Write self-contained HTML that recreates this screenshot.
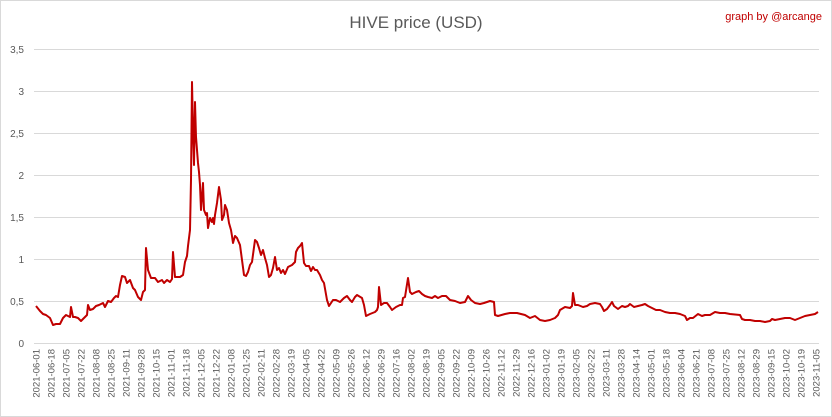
<!DOCTYPE html>
<html><head><meta charset="utf-8"><style>
html,body{margin:0;padding:0;background:#fff;}
svg{display:block;}
</style></head><body>
<svg width="832" height="417" viewBox="0 0 832 417" xmlns="http://www.w3.org/2000/svg" font-family="Liberation Sans, sans-serif">
<rect x="0.5" y="0.5" width="831" height="416" fill="#fff" stroke="#d9d9d9"/>
<text x="416" y="28" font-size="17" fill="#595959" text-anchor="middle">HIVE price (USD)</text>
<text x="822" y="20" font-size="11" fill="#c00000" text-anchor="end">graph by @arcange</text>
<g stroke="#d9d9d9" stroke-width="1">
<line x1="34" x2="819" y1="49.5" y2="49.5"/><line x1="34" x2="819" y1="91.5" y2="91.5"/>
<line x1="34" x2="819" y1="133.5" y2="133.5"/><line x1="34" x2="819" y1="175.5" y2="175.5"/>
<line x1="34" x2="819" y1="217.5" y2="217.5"/><line x1="34" x2="819" y1="259.5" y2="259.5"/>
<line x1="34" x2="819" y1="301.5" y2="301.5"/><line x1="34" x2="819" y1="343.5" y2="343.5"/>
</g>
<g font-size="10" fill="#595959" text-anchor="end">
<text x="24" y="53">3,5</text><text x="24" y="95">3</text><text x="24" y="137">2,5</text>
<text x="24" y="179">2</text><text x="24" y="221">1,5</text><text x="24" y="263">1</text>
<text x="24" y="305">0,5</text><text x="24" y="347">0</text>
</g>
<g font-size="9.5" fill="#595959" text-anchor="end">
<text transform="translate(39.5,349) rotate(-90)">2021-06-01</text>
<text transform="translate(54.5,349) rotate(-90)">2021-06-18</text>
<text transform="translate(69.5,349) rotate(-90)">2021-07-05</text>
<text transform="translate(84.5,349) rotate(-90)">2021-07-22</text>
<text transform="translate(99.5,349) rotate(-90)">2021-08-08</text>
<text transform="translate(114.5,349) rotate(-90)">2021-08-25</text>
<text transform="translate(129.5,349) rotate(-90)">2021-09-11</text>
<text transform="translate(144.5,349) rotate(-90)">2021-09-28</text>
<text transform="translate(159.5,349) rotate(-90)">2021-10-15</text>
<text transform="translate(174.5,349) rotate(-90)">2021-11-01</text>
<text transform="translate(189.5,349) rotate(-90)">2021-11-18</text>
<text transform="translate(204.5,349) rotate(-90)">2021-12-05</text>
<text transform="translate(219.5,349) rotate(-90)">2021-12-22</text>
<text transform="translate(234.5,349) rotate(-90)">2022-01-08</text>
<text transform="translate(249.5,349) rotate(-90)">2022-01-25</text>
<text transform="translate(264.5,349) rotate(-90)">2022-02-11</text>
<text transform="translate(279.5,349) rotate(-90)">2022-02-28</text>
<text transform="translate(294.5,349) rotate(-90)">2022-03-19</text>
<text transform="translate(309.5,349) rotate(-90)">2022-04-05</text>
<text transform="translate(324.5,349) rotate(-90)">2022-04-22</text>
<text transform="translate(339.5,349) rotate(-90)">2022-05-09</text>
<text transform="translate(354.5,349) rotate(-90)">2022-05-26</text>
<text transform="translate(369.5,349) rotate(-90)">2022-06-12</text>
<text transform="translate(384.5,349) rotate(-90)">2022-06-29</text>
<text transform="translate(399.5,349) rotate(-90)">2022-07-16</text>
<text transform="translate(414.5,349) rotate(-90)">2022-08-02</text>
<text transform="translate(429.5,349) rotate(-90)">2022-08-19</text>
<text transform="translate(444.5,349) rotate(-90)">2022-09-05</text>
<text transform="translate(459.5,349) rotate(-90)">2022-09-22</text>
<text transform="translate(474.5,349) rotate(-90)">2022-10-09</text>
<text transform="translate(489.5,349) rotate(-90)">2022-10-26</text>
<text transform="translate(504.5,349) rotate(-90)">2022-11-12</text>
<text transform="translate(519.5,349) rotate(-90)">2022-11-29</text>
<text transform="translate(534.5,349) rotate(-90)">2022-12-16</text>
<text transform="translate(549.5,349) rotate(-90)">2023-01-02</text>
<text transform="translate(564.5,349) rotate(-90)">2023-01-19</text>
<text transform="translate(579.5,349) rotate(-90)">2023-02-05</text>
<text transform="translate(594.5,349) rotate(-90)">2023-02-22</text>
<text transform="translate(609.5,349) rotate(-90)">2023-03-11</text>
<text transform="translate(624.5,349) rotate(-90)">2023-03-28</text>
<text transform="translate(639.5,349) rotate(-90)">2023-04-14</text>
<text transform="translate(654.5,349) rotate(-90)">2023-05-01</text>
<text transform="translate(669.5,349) rotate(-90)">2023-05-18</text>
<text transform="translate(684.5,349) rotate(-90)">2023-06-04</text>
<text transform="translate(699.5,349) rotate(-90)">2023-06-21</text>
<text transform="translate(714.5,349) rotate(-90)">2023-07-08</text>
<text transform="translate(729.5,349) rotate(-90)">2023-07-25</text>
<text transform="translate(744.5,349) rotate(-90)">2023-08-12</text>
<text transform="translate(759.5,349) rotate(-90)">2023-08-29</text>
<text transform="translate(774.5,349) rotate(-90)">2023-09-15</text>
<text transform="translate(789.5,349) rotate(-90)">2023-10-02</text>
<text transform="translate(804.5,349) rotate(-90)">2023-10-19</text>
<text transform="translate(819.5,349) rotate(-90)">2023-11-05</text>
</g>
<polyline fill="none" stroke="#c00000" stroke-width="2" stroke-linejoin="round" points="
36,306 40,311 43,314 46,315 50,318 53,325 56,324 60,324 63,318 66,315 70,317 71,307 73,317 75,317 78,318 81,321 84,318 87,315 88,305 90,310 93,309 96,306 99,305 103,303 105,307 108,301 111,302 114,298 116,296 118,297 120,285 122,276 125,277 127,283 130,280 133,288 135,290 138,297 141,300 143,292 145,290 146,248 148,270 151,278 155,278 158,282 162,280 164,283 167,280 170,282 172,279 173,252 175,277 180,277 183,275 185,262 187,256 188,246 190,230 191,180 192,82 193,130 194,165 195,102 196,137 198,163 199,172 200,185 201,210 203,183 204,210 206,215 207,213 208,228 210,218 212,222 213,218 214,224 215,215 217,203 219,187 221,200 222,220 224,215 225,205 227,210 229,223 231,230 232,236 233,243 235,236 237,238 240,245 242,260 244,275 246,276 248,272 250,265 252,262 255,240 257,242 259,248 261,255 263,250 265,258 267,265 269,277 271,275 273,268 275,257 277,270 279,268 281,273 283,270 285,274 288,267 292,265 295,262 296,252 298,248 300,246 302,243 304,263 306,266 309,266 311,271 313,267 315,270 317,270 320,275 322,280 324,283 327,300 329,306 331,303 333,300 336,300 340,302 344,298 347,296 350,300 352,302 355,297 357,295 362,298 364,305 366,316 370,314 375,312 377,310 378,307 379,287 381,305 384,303 387,303 390,307 392,310 396,307 400,305 402,305 403,298 405,297 408,278 410,292 412,294 416,292 419,291 422,294 425,296 428,297 432,298 435,296 438,298 442,296 446,296 450,300 455,301 460,303 465,302 468,296 471,300 475,303 480,304 484,303 490,301 494,302 495,315 498,316 505,314 510,313 517,313 525,315 530,318 535,316 540,320 545,321 550,320 555,318 558,315 560,310 565,307 570,308 572,306 573,293 575,305 578,305 583,307 587,306 590,304 595,303 600,304 602,307 604,311 607,309 610,305 612,302 614,306 618,309 622,306 625,307 628,306 630,304 634,307 638,306 642,305 645,304 648,306 652,308 656,310 660,310 665,312 670,313 675,313 680,314 685,316 687,320 690,318 693,318 698,314 702,316 705,315 710,315 715,312 720,313 725,313 730,314 740,315 742,319 745,320 750,320 755,321 760,321 765,322 770,321 772,319 775,320 780,319 785,318 790,318 795,320 800,318 805,316 810,315 815,314 818,312"/>
</svg>
</body></html>
